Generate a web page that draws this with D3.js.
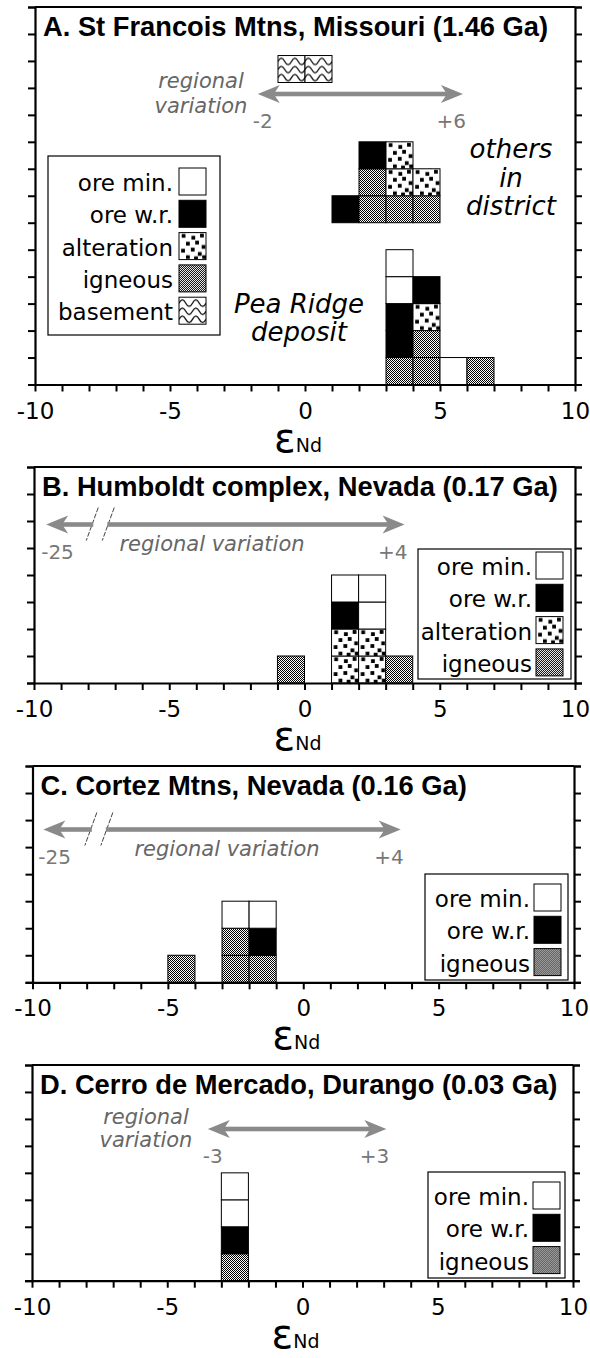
<!DOCTYPE html>
<html>
<head>
<meta charset="utf-8">
<script src="https://cdn.jsdelivr.net/npm/d3@7"></script>
<style>
  body { margin: 0; background: #fff; }
  svg { display: block; }
</style>
</head>
<body>
<svg width="590" height="1358" font-family="DejaVu Sans, sans-serif"></svg>
<script>
// legend order / sample types
var categories = ["ore min.", "ore w.r.", "alteration", "igneous", "basement"];

// A. St Francois Mtns -- stacks listed bottom to top, one box per sample
var peaRidgeBins = [3, 4, 5, 6];
var peaRidgeStacks = [
  ["igneous", "ore w.r.", "ore w.r.", "ore min.", "ore min."],
  ["igneous", "igneous", "alteration", "ore w.r."],
  ["ore min."],
  ["igneous"]
];
var districtBase = 6;
var districtBins = [1, 2, 3, 4];
var districtStacks = [
  ["ore w.r."],
  ["igneous", "igneous", "ore w.r."],
  ["igneous", "alteration", "alteration"],
  ["igneous", "alteration"]
];
var basementBase = 11.2;
var basementBins = [-1, 0];
var basementStacks = [["basement"], ["basement"]];

// B. Humboldt complex
var humboldtBins = [-1, 1, 2, 3];
var humboldtStacks = [
  ["igneous"],
  ["alteration", "alteration", "ore w.r.", "ore min."],
  ["alteration", "alteration", "ore min.", "ore min."],
  ["igneous"]
];

// C. Cortez Mtns
var cortezBins = [-5, -3, -2];
var cortezStacks = [
  ["igneous"],
  ["igneous", "igneous", "ore min."],
  ["igneous", "ore w.r.", "ore min."]
];

// D. Cerro de Mercado
var durangoBins = [-3];
var durangoStacks = [["igneous", "ore w.r.", "ore min.", "ore min."]];

var xTicks = [-10, -5, 0, 5, 10];
var titles = [
  "A.  St Francois Mtns, Missouri (1.46 Ga)",
  "B.  Humboldt complex, Nevada (0.17 Ga)",
  "C.  Cortez Mtns, Nevada (0.16 Ga)",
  "D. Cerro de Mercado, Durango (0.03 Ga)"
];
var regionalLabels = [["-2", "+6"], ["-25", "+4"], ["-25", "+4"], ["-3", "+3"]];
var regionalArrows = [[-1.75, 5.85], [-9.55, 3.7], [-9.6, 3.6], [-3.5, 3.1]];
var regionalBreak = [null, -7.55, -7.55, null];
var legendItems = [
  categories,
  categories.slice(0, 4),
  ["ore min.", "ore w.r.", "igneous"],
  ["ore min.", "ore w.r.", "igneous"]
];

var svg = d3.select("svg");
var defs = svg.append("defs");

// fills
var fills = {
  "ore min.": "#fff",
  "ore w.r.": "#000",
  "alteration": "url(#alt)",
  "igneous": "url(#ign)",
  "basement": "url(#bas)"
};

var ign = defs.append("pattern").attr("id", "ign")
  .attr("patternUnits", "userSpaceOnUse").attr("width", 2).attr("height", 2);
ign.append("rect").attr("width", 2).attr("height", 2).attr("fill", "#fff");
ign.append("rect").attr("width", 1).attr("height", 1).attr("fill", "#000");
ign.append("rect").attr("x", 1).attr("y", 1).attr("width", 1).attr("height", 1).attr("fill", "#000");

var alt = defs.append("pattern").attr("id", "alt")
  .attr("patternUnits", "objectBoundingBox").attr("patternContentUnits", "objectBoundingBox")
  .attr("width", 1).attr("height", 1);
alt.append("rect").attr("width", 1).attr("height", 1).attr("fill", "#fff");
var dots = [[0.1,0.05],[0.46,0.12],[0.78,0.04],[0.26,0.34],[0.6,0.3],[0.84,0.46],
            [0.08,0.6],[0.44,0.56],[0.7,0.72],[0.26,0.84],[0.56,0.88],[0.86,0.84]];
alt.selectAll("rect.d").data(dots).enter().append("rect").attr("class", "d")
  .attr("x", function(d){ return d[0]; }).attr("y", function(d){ return d[1]; })
  .attr("width", 0.14).attr("height", 0.14).attr("fill", "#000");

var bas = defs.append("pattern").attr("id", "bas")
  .attr("patternUnits", "objectBoundingBox").attr("patternContentUnits", "objectBoundingBox")
  .attr("width", 1).attr("height", 1);
bas.append("rect").attr("width", 1).attr("height", 1).attr("fill", "#fff");
[0.22, 0.52, 0.82].forEach(function(y0){
  bas.append("path")
    .attr("d", "M0," + y0 + " Q0.125," + (y0 - 0.24) + " 0.25," + y0 + " T0.5," + y0 + " T0.75," + y0 + " T1," + y0)
    .attr("fill", "none").attr("stroke", "#000").attr("stroke-width", 0.045);
});

var panels = [
  {top: 7, bottom: 384.5, x0: 35, x1: 575, units: 14,
   groups: [
     {bins: peaRidgeBins, stacks: peaRidgeStacks, base: 0},
     {bins: districtBins, stacks: districtStacks, base: districtBase},
     {bins: basementBins, stacks: basementStacks, base: basementBase}],
   legend: {x: 48, y: 156, w: 172, h: 179, pad: 12, swX: 179, labX: 173},
   arrowY: 94,
   notes: [
     {t: "regional", x: 201, y: 88, size: 21, gray: true},
     {t: "variation", x: 201, y: 113, size: 21, gray: true},
     {t: "others", x: 511, y: 158, size: 26},
     {t: "in", x: 511, y: 187, size: 26},
     {t: "district", x: 511, y: 215, size: 26},
     {t: "Pea Ridge", x: 299, y: 313, size: 26},
     {t: "deposit", x: 299, y: 341, size: 26}]},
  {top: 467, bottom: 683, x0: 34, x1: 575, units: 8,
   groups: [{bins: humboldtBins, stacks: humboldtStacks, base: 0}],
   legend: {x: 418, y: 549, w: 153, h: 130, pad: 3, swX: 536, labX: 532},
   arrowY: 524.5,
   notes: [{t: "regional variation", x: 212, y: 551, size: 21, gray: true}]},
  {top: 766, bottom: 982.3, x0: 32.5, x1: 574, units: 8,
   groups: [{bins: cortezBins, stacks: cortezStacks, base: 0}],
   legend: {x: 425, y: 874, w: 143, h: 106, pad: 10, swX: 534, labX: 530},
   arrowY: 829.5,
   notes: [{t: "regional variation", x: 227, y: 856, size: 21, gray: true}]},
  {top: 1065, bottom: 1280.7, x0: 32, x1: 573, units: 8,
   groups: [{bins: durangoBins, stacks: durangoStacks, base: 0}],
   legend: {x: 428, y: 1172, w: 137, h: 106, pad: 10, swX: 533, labX: 529},
   arrowY: 1129,
   notes: [
     {t: "regional", x: 146, y: 1124, size: 21, gray: true},
     {t: "variation", x: 146, y: 1147, size: 21, gray: true}]}
];

var gray = "#8a8a8a";

panels.forEach(function(p, pi){
  var x = d3.scaleLinear().domain([-10, 10]).range([p.x0, p.x1]);
  var y = d3.scaleLinear().domain([0, p.units]).range([p.bottom, p.top]);
  var g = svg.append("g");

  // stacked sample boxes
  p.groups.forEach(function(grp){
    var boxes = [];
    grp.bins.forEach(function(b, i){
      grp.stacks[i].forEach(function(c, j){
        boxes.push({bin: b, lvl: grp.base + j, cat: c});
      });
    });
    g.selectAll(null).data(boxes).enter().append("rect")
      .attr("x", function(d){ return x(d.bin); })
      .attr("y", function(d){ return y(d.lvl + 1); })
      .attr("width", function(d){ return x(d.bin + 1) - x(d.bin); })
      .attr("height", function(d){ return y(d.lvl) - y(d.lvl + 1); })
      .attr("fill", function(d){ return fills[d.cat]; })
      .attr("stroke", "#000").attr("stroke-width", 1);
  });

  // frame and axes
  var yAxisL = d3.axisLeft(y).ticks(p.units).tickSize(7).tickFormat("");
  var yAxisR = d3.axisRight(y).ticks(p.units).tickSize(7).tickFormat("");
  var xAxis = d3.axisBottom(x).ticks(20).tickSize(7).tickSizeOuter(0)
    .tickFormat(function(d){ return xTicks.indexOf(d) >= 0 ? d : ""; });
  [ ["translate(" + p.x0 + ",0)", yAxisL], ["translate(" + p.x1 + ",0)", yAxisR],
    ["translate(0," + p.bottom + ")", xAxis] ].forEach(function(a){
    var ax = g.append("g").attr("transform", a[0]).call(a[1]);
    ax.attr("font-family", null);
    ax.select(".domain").attr("stroke-width", 2.2);
    ax.selectAll(".tick line").attr("stroke-width", 2);
  });
  g.selectAll(".tick text").attr("font-size", 23).attr("fill", "#000")
    .attr("dy", null).attr("y", 34);
  g.append("line").attr("x1", p.x0).attr("x2", p.x1)
    .attr("y1", p.top).attr("y2", p.top).attr("stroke", "#000").attr("stroke-width", 2.2);

  // axis title
  var at = g.append("text").attr("x", x(0) - 7).attr("y", p.bottom + 67)
    .attr("text-anchor", "middle");
  at.append("tspan").attr("font-size", 40).text("ε");
  at.append("tspan").attr("font-size", 19).text("Nd");

  // title
  g.append("text").attr("x", p.x0 + 8).attr("y", p.top + 29)
    .style("font-family", "'Liberation Sans', Arial, sans-serif")
    .attr("font-size", 27.3).attr("font-weight", "bold").text(titles[pi]);

  // regional variation arrow
  var ar = regionalArrows[pi];
  var ax0 = x(ar[0]), ax1 = x(ar[1]), ay = p.arrowY;
  var segs = [[ax0 + 15, ax1 - 15]];
  if (regionalBreak[pi] !== null) {
    var bx = x(regionalBreak[pi]);
    segs = [[ax0 + 15, bx - 7], [bx + 7, ax1 - 15]];
    [-8, 8].forEach(function(o){
      g.append("line").attr("x1", bx + o + 6).attr("y1", ay - 17)
        .attr("x2", bx + o - 6).attr("y2", ay + 16)
        .attr("stroke", "#444").attr("stroke-width", 1).attr("stroke-dasharray", "5,1.5");
    });
  }
  segs.forEach(function(s){
    g.append("rect").attr("x", s[0]).attr("y", ay - 2.3)
      .attr("width", s[1] - s[0]).attr("height", 4.6).attr("fill", gray);
  });
  g.append("path").attr("fill", gray)
    .attr("d", "M" + ax0 + "," + ay + " L" + (ax0 + 22) + "," + (ay - 9) + " L" + (ax0 + 16) + "," + ay +
      " L" + (ax0 + 22) + "," + (ay + 9) + " Z");
  g.append("path").attr("fill", gray)
    .attr("d", "M" + ax1 + "," + ay + " L" + (ax1 - 22) + "," + (ay - 9) + " L" + (ax1 - 16) + "," + ay +
      " L" + (ax1 - 22) + "," + (ay + 9) + " Z");
  g.append("text").attr("x", ax0 - 5).attr("y", ay + 34).attr("font-size", 20)
    .attr("fill", "#777").text(regionalLabels[pi][0]);
  g.append("text").attr("x", ax1 + 3).attr("y", ay + 34).attr("font-size", 20)
    .attr("text-anchor", "end").attr("fill", "#777").text(regionalLabels[pi][1]);

  // notes
  g.selectAll(null).data(p.notes).enter().append("text")
    .attr("x", function(d){ return d.x; }).attr("y", function(d){ return d.y; })
    .attr("text-anchor", "middle").attr("font-style", "italic")
    .attr("font-size", function(d){ return d.size; })
    .attr("fill", function(d){ return d.gray ? "#666" : "#000"; })
    .text(function(d){ return d.t; });

  // legend
  var L = p.legend;
  var lg = g.append("g");
  lg.append("rect").attr("x", L.x).attr("y", L.y).attr("width", L.w).attr("height", L.h)
    .attr("fill", "#fff").attr("stroke", "#000").attr("stroke-width", 1.2);
  var row = lg.selectAll("g.row").data(legendItems[pi]).enter().append("g").attr("class", "row")
    .attr("transform", function(d, i){ return "translate(0," + (L.y + L.pad + i * 32.3) + ")"; });
  row.append("rect").attr("x", L.swX).attr("width", 27).attr("height", 27)
    .attr("fill", function(d){ return fills[d]; }).attr("stroke", "#000").attr("stroke-width", 1);
  row.append("text").attr("x", L.labX).attr("y", 23).attr("text-anchor", "end")
    .attr("font-size", 23).text(function(d){ return d; });
});
</script>
</body>
</html>
